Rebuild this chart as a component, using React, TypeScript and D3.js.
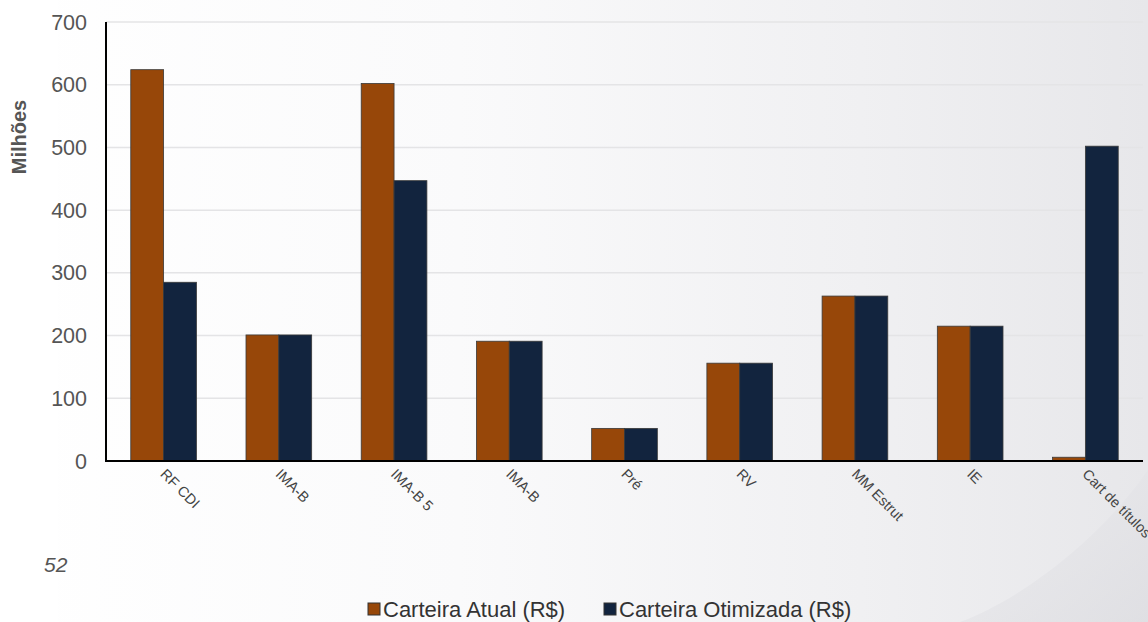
import React from "react";
import * as d3 from "d3";

const categories = ["RF CDI", "IMA-B", "IMA-B 5", "IMA-B", "Pré", "RV", "MM Estrut", "IE", "Cart de títulos"];
const atual = [624, 201, 602, 191, 52, 156, 263, 215, 6];
const otimizada = [285, 201, 447, 191, 52, 156, 263, 215, 502];
const seriesNames = ["Carteira Atual (R$)", "Carteira Otimizada (R$)"];
const seriesColors = ["#974709", "#12243e"];
const yTicks = [0, 100, 200, 300, 400, 500, 600, 700];

const W = 1148, H = 622;
const left = 106, right = 1143, top = 22, bottom = 461;

export default function App() {
  const x = d3.scaleBand<number>().domain(categories.map((_, i) => i)).range([left, right]).paddingInner(0.43).paddingOuter(0.215);
  const y = d3.scaleLinear().domain([0, 700]).range([bottom, top]);
  const bw = x.bandwidth() / 2;
  const series = [atual, otimizada];
  const font = "'Liberation Sans', Arial, sans-serif";
  return (
    <svg width={W} height={H} style={{ position: "absolute", left: 0, top: 0 }} fontFamily={font}>
      <defs>
        <linearGradient id="bg" x1="0" y1="0" x2="1" y2="0">
          <stop offset="0" stopColor="#ffffff" />
          <stop offset="0.4" stopColor="#fafafb" />
          <stop offset="0.75" stopColor="#f0f0f2" />
          <stop offset="1" stopColor="#e7e7ea" />
        </linearGradient>
        <linearGradient id="curl" x1="0" y1="0" x2="1" y2="1">
          <stop offset="0" stopColor="#ececef" />
          <stop offset="1" stopColor="#dcdce0" />
        </linearGradient>
      </defs>
      <rect x={0} y={0} width={W} height={H} fill="url(#bg)" />
      <rect x={0} y={0} width={58} height={H} fill="#ffffff" />
      <path d={`M1148,470 C1100,540 1020,600 960,622 L1148,622 Z`} fill="url(#curl)" opacity={0.7} />
      {yTicks.map(t => (
        <g key={t}>
          {t > 0 && <line x1={left} x2={right} y1={y(t)} y2={y(t)} stroke="#e4e4e6" strokeWidth={1.5} />}
          <text x={87} y={y(t)} dy="0.35em" textAnchor="end" fontSize={21.5} fill="#555">{t}</text>
        </g>
      ))}
      {categories.map((c, i) => (
        <g key={i}>
          {series.map((s, j) => (
            <rect key={j} x={(x(i) as number) + j * bw} y={y(s[i])} width={bw} height={bottom - y(s[i])}
              fill={seriesColors[j]} stroke="#3a3a3a" strokeWidth={0.8} />
          ))}
          <text transform={`translate(${(x(i) as number) + bw - 4},${475}) rotate(45)`} fontSize={14.5} fill="#444">{c}</text>
        </g>
      ))}
      <line x1={left} x2={left} y1={top} y2={bottom + 1} stroke="#000" strokeWidth={2} />
      <line x1={left - 1} x2={right} y1={bottom} y2={bottom} stroke="#000" strokeWidth={2} />
      <text transform={`translate(26,${137}) rotate(-90)`} textAnchor="middle" fontSize={20} fontWeight="bold" fill="#555">Milhões</text>
      <text x={44} y={572} fontSize={21} fontStyle="italic" fill="#555">52</text>
      {seriesNames.map((n, j) => {
        const lx = j === 0 ? 368 : 604;
        return (
          <g key={n}>
            <rect x={lx} y={603} width={12} height={12} fill={seriesColors[j]} stroke="#333" strokeWidth={1} />
            <text x={lx + 15} y={617} fontSize={22} fill="#333">{n}</text>
          </g>
        );
      })}
    </svg>
  );
}
